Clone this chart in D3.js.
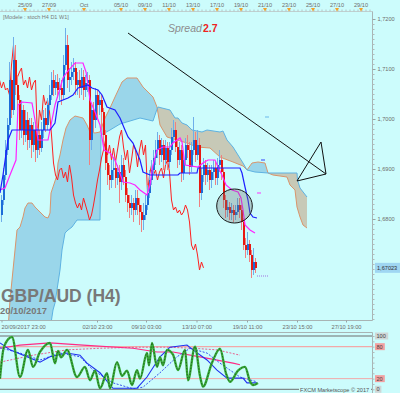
<!DOCTYPE html>
<html>
<head>
<meta charset="utf-8">
<script src="https://cdn.jsdelivr.net/npm/d3@7"></script>
<style>
  html, body { margin: 0; padding: 0; background: #ccfcfc; }
  svg { display: block; font-family: "Liberation Sans", Arial, sans-serif; }
</style>
</head>
<body>
<div id="chart"></div>
<script>
// ---- GBP/AUD H4 candles (bar 0 = 20/09/2017 23:00), open = previous close
const firstOpen = 1.6808;
const closes = [
  1.6838,1.6888,1.6938,1.6988,1.7078,1.7018,1.7118,1.7068,1.7038,1.6978,
  1.7018,1.6968,1.6998,1.6958,1.6988,1.6948,1.6978,1.6938,1.6968,1.6942,
  1.6978,1.7002,1.6988,1.7028,1.7048,1.7078,1.7062,1.7074,1.7058,1.7062,
  1.7048,1.7108,1.7148,1.7078,1.7084,1.7094,1.7102,1.7068,1.7078,1.7062,
  1.7084,1.7058,1.7072,1.7078,1.6958,1.7018,1.6998,1.7048,1.7028,1.7038,
  1.7014,1.6968,1.6912,1.6888,1.6878,1.6898,1.6902,1.6882,1.6894,1.6874,
  1.6908,1.6884,1.6848,1.6832,1.6822,1.6832,1.6818,1.6842,1.6828,1.6814,
  1.6798,1.6808,1.6828,1.6852,1.6878,1.6898,1.6922,1.6938,1.6958,1.6928,
  1.6948,1.6918,1.6942,1.6914,1.6938,1.6964,1.6978,1.6944,1.6918,1.6938,
  1.6892,1.6918,1.6948,1.6938,1.6904,1.6938,1.6958,1.6928,1.6948,1.6852,
  1.6888,1.6908,1.6888,1.6898,1.6878,1.6894,1.6902,1.6882,1.6908,1.6918,
  1.6894,1.6838,1.6818,1.6824,1.6812,1.6818,1.6808,1.6814,1.6828,1.6818,
  1.6794,1.6748,1.6738,1.6750,1.6728,1.6698,1.6714,1.67023
];
const highs = [
  1.6848,1.6902,1.6958,1.7002,1.7114,1.7098,1.7164,1.7148,1.7088,1.7048,
  1.7038,1.7028,1.7018,1.7014,1.7002,1.7002,1.6994,1.6988,1.6982,1.6978,
  1.6994,1.7018,1.7022,1.7042,1.7068,1.7094,1.7098,1.7088,1.7090,1.7082,
  1.7078,1.7128,1.7182,1.7168,1.7102,1.7114,1.7122,1.7114,1.7094,1.7098,
  1.7102,1.7098,1.7088,1.7094,1.7088,1.7028,1.7034,1.7062,1.7058,1.7054,
  1.7048,1.7022,1.6978,1.6928,1.6908,1.6918,1.6922,1.6918,1.6908,1.6908,
  1.6928,1.6922,1.6898,1.6862,1.6848,1.6848,1.6842,1.6858,1.6858,1.6842,
  1.6828,1.6832,1.6848,1.6868,1.6898,1.6918,1.6938,1.6958,1.6974,1.6968,
  1.6962,1.6958,1.6958,1.6954,1.6954,1.6982,1.6998,1.6994,1.6958,1.6954,
  1.6948,1.6934,1.6962,1.6968,1.6954,1.6954,1.7004,1.6974,1.6978,1.6962,
  1.6902,1.6922,1.6918,1.6912,1.6908,1.6908,1.6918,1.6914,1.6922,1.6938,
  1.6928,1.6902,1.6848,1.6838,1.6834,1.6832,1.6828,1.6828,1.6842,1.6842,
  1.6828,1.6802,1.6762,1.6774,1.6758,1.6738,1.6742,1.6722
];
const lows = [
  1.6794,1.6828,1.6878,1.6928,1.6978,1.7002,1.7008,1.7048,1.7018,1.6958,
  1.6962,1.6948,1.6954,1.6938,1.6942,1.6922,1.6934,1.6914,1.6922,1.6928,
  1.6934,1.6962,1.6974,1.6978,1.7018,1.7038,1.7046,1.7048,1.7042,1.7038,
  1.7028,1.7038,1.7098,1.7062,1.7054,1.7068,1.7078,1.7048,1.7048,1.7042,
  1.7048,1.7038,1.7044,1.7054,1.6908,1.6938,1.6974,1.6982,1.7002,1.7008,
  1.6978,1.6948,1.6898,1.6868,1.6858,1.6862,1.6878,1.6862,1.6868,1.6832,
  1.6858,1.6868,1.6834,1.6814,1.6802,1.6808,1.6794,1.6808,1.6808,1.6788,
  1.6774,1.6778,1.6798,1.6818,1.6842,1.6868,1.6888,1.6908,1.6922,1.6908,
  1.6914,1.6898,1.6908,1.6898,1.6902,1.6928,1.6954,1.6934,1.6902,1.6908,
  1.6874,1.6878,1.6908,1.6922,1.6888,1.6894,1.6928,1.6914,1.6918,1.6824,
  1.6838,1.6874,1.6868,1.6874,1.6858,1.6862,1.6878,1.6868,1.6868,1.6894,
  1.6878,1.6822,1.6802,1.6804,1.6798,1.6798,1.6794,1.6798,1.6808,1.6802,
  1.6778,1.6738,1.6722,1.6728,1.6714,1.6682,1.6688,1.6692
];
const chikouShift = 26;

// ---- Ichimoku lines, [bar, price]
const tenkan = [
  [-0.75,1.6858],[1.75,1.6862],[4.25,1.6888],[7.25,1.6918],[8.25,1.7028],[10.25,1.7034],
  [15.25,1.7032],[16.75,1.6998],[18.25,1.6958],[23.25,1.6958],[25.25,1.6998],[26.75,1.7028],
  [28.25,1.7048],[30.75,1.7082],[32.75,1.7094],[36.75,1.7112],[40.75,1.7112],[42.25,1.7094],
  [43.25,1.7068],[44.25,1.7038],[46.75,1.7014],[49.25,1.6988],[51.25,1.6938],[54.25,1.6932],
  [56.75,1.6918],[58.25,1.6902],[60.75,1.6874],[64.25,1.6872],[66.75,1.6868],[69.25,1.6858],
  [72.75,1.6848],[74.25,1.6868],[75.75,1.6908],[77.75,1.6938],[80.75,1.6944],[84.25,1.6944],
  [85.75,1.6952],[89.25,1.6962],[90.25,1.6954],[91.75,1.6908],[98.25,1.6904],[100.75,1.6912],
  [103.25,1.6918],[106.75,1.6918],[108.25,1.6904],[110.25,1.6888],[112.25,1.6868],[115.25,1.6858],
  [118.25,1.6854],[119.75,1.6842],[120.75,1.6818],[121.75,1.6788],[124.25,1.6778],[126.75,1.6772]
];
const kijun = [
  [-0.75,1.6852],[0.75,1.6888],[3.25,1.6958],[5.25,1.6978],[24.25,1.6978],[26.75,1.6992],
  [28.25,1.7034],[33.25,1.7042],[35.75,1.7048],[38.25,1.7062],[43.25,1.7068],[45.25,1.7062],
  [48.25,1.7058],[50.25,1.7048],[52.75,1.7024],[56.75,1.7018],[59.25,1.7002],[61.75,1.6978],
  [63.25,1.6964],[65.75,1.6952],[69.25,1.6918],[70.75,1.6894],[74.25,1.6888],[88.25,1.6888],
  [89.25,1.6892],[97.75,1.6892],[98.25,1.6902],[119.25,1.6902],[120.25,1.6892],[121.75,1.6864],
  [123.25,1.6838],[124.25,1.6812],[125.75,1.6804],[127.75,1.6802]
];
const senkouA = [
  [-0.75,1.6558],[3.25,1.6578],[4.25,1.6638],[5.75,1.6698],[6.75,1.6738],[7.75,1.6778],
  [9.25,1.6784],[10.75,1.6804],[11.75,1.6822],[13.25,1.6832],[15.25,1.6832],[16.75,1.6824],
  [19.25,1.6814],[21.75,1.6804],[23.25,1.6802],[24.25,1.6812],[24.75,1.6852],[25.25,1.6858],
  [27.75,1.6888],[28.25,1.6912],[29.25,1.6928],[30.75,1.6958],[32.25,1.6982],[34.25,1.6998],
  [36.75,1.7006],[40.75,1.7002],[42.75,1.6988],[44.25,1.6974],[46.75,1.6972],[49.25,1.6974],
  [51.75,1.7002],[54.25,1.7022],[56.75,1.7044],[60.25,1.7074],[62.75,1.7082],[67.75,1.7082],
  [70.75,1.7064],[75.75,1.7044],[77.75,1.7024],[79.25,1.6988],[82.75,1.6964],[87.75,1.6958],
  [92.75,1.6952],[97.75,1.6944],[104.25,1.6942],[109.25,1.6924],[115.75,1.6914],[120.75,1.6906],
  [122.75,1.6898],[125.25,1.6912],[128.25,1.6914],[131.75,1.6912],[133.25,1.6892],[135.75,1.6888],
  [142.75,1.6884],[144.25,1.6868],[146.75,1.6858],[147.75,1.6824],[149.25,1.6804],[150.75,1.6788],
  [152.75,1.6782]
];
const senkouB = [
  [-0.75,1.6518],[19.25,1.6538],[24.25,1.6578],[25.75,1.6618],[26.75,1.6632],[29.25,1.6698],
  [30.25,1.6738],[31.75,1.6772],[33.25,1.6778],[35.25,1.6784],[37.75,1.6798],[49.25,1.6798],
  [49.75,1.6968],[54.25,1.6978],[59.25,1.6990],[69.25,1.7002],[75.75,1.6996],[77.25,1.7014],
  [78.25,1.7024],[80.25,1.7022],[84.25,1.7018],[86.75,1.7002],[88.25,1.7002],[90.25,1.6992],
  [92.75,1.6988],[95.25,1.6978],[100.25,1.6974],[102.75,1.6978],[109.25,1.6974],[110.75,1.6976],
  [112.75,1.6958],[115.75,1.6944],[118.25,1.6928],[120.75,1.6912],[122.75,1.6898],[126.75,1.6894],
  [133.25,1.6892],[147.75,1.6892],[148,1.6878],[149.25,1.6862],[152.75,1.6844]
];
// short projected levels to the right of the last bar: [barFrom, barTo, price, colour]
const projections = [
  [127.75, 129.75, 1.6852, '#ff30ff'],
  [129.75, 131.75, 1.6918, '#3040ff'],
  [131.75, 133.75, 1.7004, '#6ab8ea']
];
const bidLine = [127.75, 133.25, 1.6686];
const lastPrice = 1.67023;

// ---- drawings: trend line, triangle, circle (bar, price)
const trendLine = [[63.25, 1.7172], [162.25, 1.6890]];
const triangle = [[159.75, 1.6954], [162.25, 1.6890], [147.75, 1.6876]];
const circle = { bar: 116.5, price: 1.6826, rBars: 8.9, rPrice: 0.0034 };

// ---- axes
const priceTicks = [1.72, 1.71, 1.70, 1.69, 1.68];
const topTickBars = [11.75, 23.75, 41.25, 59.75, 71.75, 83.75, 95.75, 107.75, 119.75, 131.75, 143.75, 155.75, 167.75, 179.75];
const topTickLabels = ['25/09', '27/09', 'Oct', '05/10', '09/10', '11/10', '13/10', '17/10', '19/10', '21/10', '23/10', '25/10', '27/10', '29/10'];
const bottomTickBars = [0, 47.75, 72.25, 97.5, 122.75, 147.75, 172.25];
const bottomTickLabels = ['20/09/2017 23:00', '02/10 23:00', '09/10 03:00', '13/10 07:00', '19/10 11:00', '23/10 15:00', '27/10 19:00'];

// ---- stochastic panel (H4 green, D1 blue, W1 pink), [bar, value]
const stochH4 = [
  [-0.75,20],[1.25,80],[5.25,98],[9.25,23],[13.25,74],[15.75,42],[19.25,70],[24.25,87],
  [26.75,49],[28.25,72],[29.75,60],[32.75,74],[37.75,23],[41.75,42],[44.25,17],[46.75,35],
  [49.25,2],[52.75,30],[54.25,2],[57.75,51],[60.25,25],[62.75,35],[65.25,8],[67.75,36],
  [69.25,20],[72.75,68],[73.75,45],[75.25,87],[77.75,42],[79.25,60],[80.75,45],[82.75,74],
  [85.75,65],[88.25,36],[91.75,74],[93.25,17],[96.75,80],[99.25,25],[100.75,5],[105.25,50],
  [109.25,76],[112.25,30],[114.25,14],[118.25,35],[121.75,42],[124.25,15],[125.75,8],[128.25,12]
];
const stochD1 = [
  [-0.75,87],[4.25,74],[19.25,51],[24.25,61],[32.75,68],[39.25,64],[42.75,49],[49.25,31],
  [55.75,2],[67.75,2],[72.75,23],[79.25,61],[84.25,79],[92.75,83],[95.75,74],[102.75,55],
  [107.75,36],[112.75,21],[120.75,21],[122.75,12],[127.75,12]
];
const stochD1Signal = [
  [-0.75,78],[9.25,68],[19.25,55],[29.25,68],[39.25,61],[45.75,36],[55.75,12],[65.75,1],
  [70.75,4],[79.25,31],[87.75,61],[94.25,77],[102.75,68],[109.25,49],[119.25,23],[127.75,14]
];
const stochW1 = [
  [-0.75,77],[9.25,83],[24.25,87],[40.75,83],[65.75,77],[77.75,70],[85.75,70],[99.25,61],
  [115.75,49],[119.25,46]
];
const stochW1Signal = [
  [-0.75,51],[15.75,64],[32.75,74],[49.25,77],[69.25,79],[82.75,79],[95.75,77],[107.75,74],
  [119.25,64]
];
const stochLevels = [100, 80, 20, 0];

// ---------------------------------------------------------------------------
const W = 400, H = 393;
const bg = '#ccfcfc';
const plot = { left: 0, right: 372, top: 12, bottom: 320 };

const x = d3.scaleLinear().domain([0, 185]).range([1.5, 371.5]);
const y = d3.scaleLinear().domain([1.66, 1.72]).range([319, 19]);
const yo = d3.scaleLinear().domain([0, 100]).range([389.3, 336]);

const px = d => x(d[0]);
const py = d => y(d[1]);
const line = d3.line().x(px).y(py);

const svg = d3.select('#chart').append('svg').attr('width', W).attr('height', H);
svg.append('rect').attr('width', W).attr('height', H).attr('fill', bg);

const defs = svg.append('defs');
defs.append('clipPath').attr('id', 'plot-clip').append('rect')
  .attr('x', plot.left).attr('y', plot.top)
  .attr('width', plot.right - plot.left).attr('height', plot.bottom - plot.top);

// kumo: fill the band between the spans in two colours with clip tricks
const fillBelow = d3.area().x(px).y0(H + 60).y1(py);
const fillAbove = d3.area().x(px).y0(-60).y1(py);
defs.append('clipPath').attr('id', 'above-b').append('path').attr('d', fillAbove(senkouB));
defs.append('clipPath').attr('id', 'above-a').append('path').attr('d', fillAbove(senkouA));

const main = svg.append('g').attr('clip-path', 'url(#plot-clip)');

main.append('g').attr('clip-path', 'url(#above-b)')
  .append('path').attr('d', fillBelow(senkouA)).attr('fill', '#9ad6ea');
main.append('g').attr('clip-path', 'url(#above-a)')
  .append('path').attr('d', fillBelow(senkouB)).attr('fill', '#c7c9b7');

main.append('path').attr('d', line(senkouA))
  .attr('fill', 'none').attr('stroke', '#d9956c').attr('stroke-width', 1);
main.append('path').attr('d', line(senkouB))
  .attr('fill', 'none').attr('stroke', '#5eb2e2').attr('stroke-width', 1);

// chikou span = closes drawn 26 bars back
main.append('path')
  .attr('d', line(closes.map((c, i) => [i - chikouShift, c])))
  .attr('fill', 'none').attr('stroke', '#ff2020').attr('stroke-width', 1);

// candles
const candles = closes.map((c, i) => ({
  i: i, o: i ? closes[i - 1] : firstOpen, h: highs[i], l: lows[i], c: c
}));
const candle = main.append('g').selectAll('g').data(candles).enter().append('g');
candle.append('line')
  .attr('x1', d => x(d.i)).attr('x2', d => x(d.i))
  .attr('y1', d => y(Math.max(d.h, d.o, d.c))).attr('y2', d => y(Math.min(d.l, d.o, d.c)))
  .attr('stroke', d => (d.c >= d.o ? '#6eaeea' : '#f08080')).attr('stroke-width', 1);
candle.append('rect')
  .attr('x', d => x(d.i) - 0.5).attr('width', 2)
  .attr('y', d => y(Math.max(d.o, d.c)))
  .attr('height', d => Math.max(1, Math.abs(y(d.o) - y(d.c))))
  .attr('shape-rendering', 'crispEdges')
  .attr('fill', d => (d.c >= d.o ? '#1c6cd8' : '#e81810'));

// tenkan / kijun
main.append('path').attr('d', line(tenkan))
  .attr('fill', 'none').attr('stroke', '#ff22ff').attr('stroke-width', 1.2);
main.append('path').attr('d', line(kijun))
  .attr('fill', 'none').attr('stroke', '#1e1eff').attr('stroke-width', 1.2);

main.selectAll('.proj').data(projections).enter().append('line')
  .attr('class', 'proj')
  .attr('x1', d => x(d[0])).attr('x2', d => x(d[1]))
  .attr('y1', d => y(d[2])).attr('y2', d => y(d[2]))
  .attr('stroke', d => d[3]).attr('stroke-width', 1);
main.append('line')
  .attr('x1', x(bidLine[0])).attr('x2', x(bidLine[1]))
  .attr('y1', y(bidLine[2])).attr('y2', y(bidLine[2]))
  .attr('stroke', '#a070e0').attr('stroke-width', 1).attr('stroke-dasharray', '1,1');

// drawings
main.append('ellipse')
  .attr('cx', x(circle.bar)).attr('cy', y(circle.price))
  .attr('rx', x(circle.bar + circle.rBars) - x(circle.bar))
  .attr('ry', y(circle.price - circle.rPrice) - y(circle.price))
  .attr('fill', '#707070').attr('fill-opacity', 0.33)
  .attr('stroke', '#1a1a1a').attr('stroke-width', 1);
main.append('path').attr('d', line(trendLine))
  .attr('stroke', '#111').attr('stroke-width', 1).attr('fill', 'none');
main.append('path').attr('d', line(triangle) + 'Z')
  .attr('stroke', '#111').attr('stroke-width', 1).attr('fill', 'none');

// ---- axes of the price panel
const gridCol = '#a8b4b4', labelCol = '#6c6c6c';

svg.append('line').attr('x1', 0).attr('x2', plot.right + 0.5)
  .attr('y1', plot.top - 0.5).attr('y2', plot.top - 0.5).attr('stroke', '#c0d0d0');
svg.append('line').attr('x1', plot.right + 0.5).attr('x2', plot.right + 0.5)
  .attr('y1', plot.top - 0.5).attr('y2', plot.bottom + 0.5).attr('stroke', gridCol);
svg.append('line').attr('x1', 0).attr('x2', plot.right + 0.5)
  .attr('y1', plot.bottom + 0.5).attr('y2', plot.bottom + 0.5).attr('stroke', gridCol);

// top date axis
const topAxis = svg.append('g').attr('transform', 'translate(0,' + (plot.top - 0.5) + ')')
  .call(d3.axisTop(x).tickValues(d3.range(0, 186, 2)).tickSize(2).tickFormat(''));
topAxis.select('.domain').remove();
topAxis.selectAll('line').attr('stroke', '#b4c4c4');
const topTick = svg.append('g').selectAll('g').data(topTickBars).enter().append('g')
  .attr('transform', d => 'translate(' + x(d) + ',0)');
topTick.append('text').attr('y', 7).attr('text-anchor', 'middle')
  .attr('font-size', 5.6).attr('fill', labelCol).text((d, k) => topTickLabels[k]);
topTick.append('path').attr('d', 'M-2,8L2,8L0,11.5Z').attr('fill', '#f2a22a');

// right price axis
const minor = svg.append('g').attr('transform', 'translate(' + (plot.right + 0.5) + ',0)')
  .call(d3.axisRight(y).ticks(60).tickSize(2).tickFormat(''));
minor.select('.domain').remove();
minor.selectAll('line').attr('stroke', '#b0bcbc');
const yAxis = svg.append('g').attr('transform', 'translate(' + (plot.right + 0.5) + ',0)')
  .call(d3.axisRight(y).tickValues(priceTicks).tickSize(3).tickPadding(2)
    .tickFormat(d => d3.format('.4f')(d).replace('.', ',')));
yAxis.select('.domain').remove();
yAxis.selectAll('line').attr('stroke', '#98a4a4');
yAxis.selectAll('text').attr('font-size', 5.6).attr('font-family', null).attr('fill', labelCol);

// last price tag
const tag = svg.append('g').attr('transform', 'translate(375,' + y(lastPrice) + ')');
tag.append('rect').attr('x', 0).attr('y', -5).attr('width', 25).attr('height', 10).attr('fill', '#9fd6f2');
tag.append('text').attr('x', 2).attr('y', 2).attr('font-size', 5.6).attr('fill', '#333')
  .text(d3.format('.5f')(lastPrice).replace('.', ','));

// bottom time axis
const xAxis = svg.append('g').attr('transform', 'translate(0,' + (plot.bottom + 0.5) + ')')
  .call(d3.axisBottom(x).tickValues(bottomTickBars).tickSize(2).tickPadding(2)
    .tickFormat((d, k) => bottomTickLabels[k]));
xAxis.select('.domain').remove();
xAxis.selectAll('line').attr('stroke', '#98a4a4');
xAxis.selectAll('text').attr('font-size', 5.7).attr('font-family', null).attr('fill', labelCol)
  .attr('text-anchor', (d, k) => (k === 0 ? 'start' : 'middle'))
  .attr('x', (d, k) => (k === 0 ? 1 - x(d) : 0));

// texts
svg.append('text').attr('x', 3).attr('y', 18.5).attr('font-size', 5.5).attr('fill', '#7a7a7a')
  .text('[Modele : stoch H4 D1 W1]');
svg.append('text').attr('x', 168).attr('y', 31.5).attr('font-size', 10.5)
  .attr('font-style', 'italic').attr('fill', '#8c8c8c').text('Spread');
svg.append('text').attr('x', 203).attr('y', 31.5).attr('font-size', 10.5)
  .attr('font-weight', 'bold').attr('fill', '#ee2222').text('2.7');
svg.append('text').attr('x', 1).attr('y', 301.5).attr('font-size', 17.5)
  .attr('font-weight', 'bold').attr('fill', '#787878').text('GBP/AUD (H4)');
svg.append('text').attr('x', 0).attr('y', 314).attr('font-size', 9.4)
  .attr('font-weight', 'bold').attr('fill', '#787878').text('20/10/2017');

// ---- stochastic panel
const osc = svg.append('g');
osc.append('line').attr('x1', 0).attr('x2', plot.right + 0.5)
  .attr('y1', 332.5).attr('y2', 332.5).attr('stroke', gridCol);
osc.append('line').attr('x1', plot.right + 0.5).attr('x2', plot.right + 0.5)
  .attr('y1', 332.5).attr('y2', H).attr('stroke', gridCol);
const levelColour = v => (v === 100 || v === 0 ? '#6e6e6e' : '#f2a8a8');
osc.selectAll('.lvl').data(stochLevels).enter().append('line')
  .attr('class', 'lvl')
  .attr('x1', 0).attr('x2', plot.right)
  .attr('y1', d => yo(d)).attr('y2', d => yo(d))
  .attr('stroke', levelColour).attr('stroke-width', d => (d === 80 ? 1.4 : 1));

const oscMinor = osc.append('g').attr('transform', 'translate(' + (plot.right + 0.5) + ',0)')
  .call(d3.axisRight(yo).ticks(10).tickSize(2).tickFormat(''));
oscMinor.select('.domain').remove();
oscMinor.selectAll('line').attr('stroke', '#b0bcbc');

const lvlTag = osc.selectAll('.lvltag').data(stochLevels).enter().append('g')
  .attr('class', 'lvltag').attr('transform', d => 'translate(375,' + yo(d) + ')');
lvlTag.append('rect').attr('x', 0).attr('y', -3.5)
  .attr('width', d => String(d).length * 3.4 + 3).attr('height', 7)
  .attr('fill', d => (d === 100 || d === 0 ? '#cfd6d6' : '#f2a0a0'));
lvlTag.append('text').attr('x', 1.5).attr('y', 2).attr('font-size', 5.6).attr('fill', '#444')
  .text(d => d);

const oLine = d3.line().x(px).y(d => yo(d[1]));
osc.append('path').attr('d', oLine(stochW1Signal)).attr('fill', 'none')
  .attr('stroke', '#e8608e').attr('stroke-width', 1).attr('stroke-dasharray', '2,1.5');
osc.append('path').attr('d', oLine(stochW1)).attr('fill', 'none')
  .attr('stroke', '#ff2a84').attr('stroke-width', 1.2);
osc.append('path').attr('d', oLine(stochD1Signal)).attr('fill', 'none')
  .attr('stroke', '#3a50ee').attr('stroke-width', 1).attr('stroke-dasharray', '2,1.5');
osc.append('path').attr('d', oLine(stochD1)).attr('fill', 'none')
  .attr('stroke', '#1e30f0').attr('stroke-width', 1.1);
const greenLine = d3.line().x(px).y(d => yo(d[1])).curve(d3.curveMonotoneX);
osc.append('path').attr('d', greenLine(stochH4)).attr('fill', 'none')
  .attr('stroke', '#3aac3a').attr('stroke-width', 2.4);
osc.append('path').attr('d', greenLine(stochH4)).attr('fill', 'none')
  .attr('stroke', '#1b5e1b').attr('stroke-width', 0.9).attr('stroke-dasharray', '1.5,1.5');

osc.append('rect').attr('x', 299).attr('y', 386).attr('width', 72).attr('height', 6).attr('fill', bg);
osc.append('text').attr('x', 300).attr('y', 391.5).attr('font-size', 5.6).attr('fill', '#555')
  .text('FXCM Marketscope \u00a9 2017');
</script>
</body>
</html>
